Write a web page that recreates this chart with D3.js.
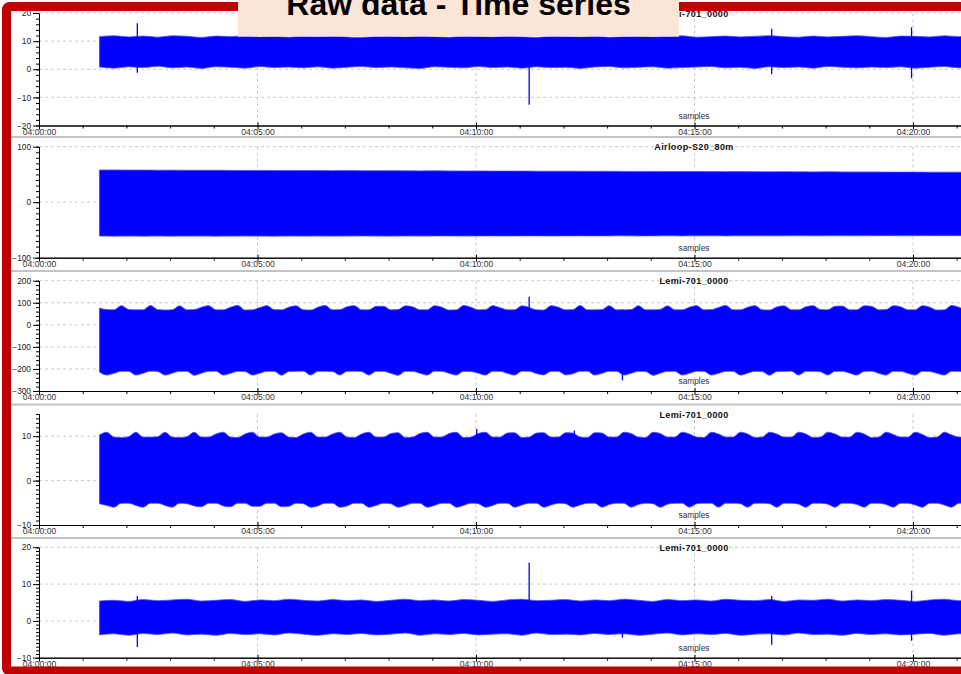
<!DOCTYPE html>
<html><head><meta charset="utf-8">
<script src="https://cdn.jsdelivr.net/npm/d3@7"></script>
<style>html,body{margin:0;padding:0;background:#fff;overflow:hidden}svg{display:block}</style>
</head><body>
<svg id="c" width="961" height="674"></svg>
<script>
// ---------------- DATA ----------------
const chartTitle = "Raw data - Time series";
const panelTitles = ["Lemi-701_0000", "Airloop-S20_80m", "Lemi-701_0000", "Lemi-701_0000", "Lemi-701_0000"];
const xAxisLabel = "samples";
const xTickLabels = ["04:00:00", "04:05:00", "04:10:00", "04:15:00", "04:20:00"];
const xDomain = ["04:00:00", "04:25:00"];
const yDomains = [[-20, 20], [-100, 100], [-300, 200], [-10, 15], [-10, 20]];
const yTickValues = [[-20, -10, 0, 10, 20], [-100, 0, 100], [-300, -200, -100, 0, 100, 200], [-10, 0, 10], [-10, 0, 10, 20]];
const yMinorSteps = [2, 10, 20, 1, 1];
const startTime = "04:01:23";
const stepSec = [20, 20, 10, 10, 20];

// envelope of the dense signal (upper / lower), one value per step
const p1Upper = [11.6,11.9,11.5,11.8,11.4,11.9,11.7,11.3,11.8,11.6,11.9,11.5,11.7,11.4,11.8,11.6,11.9,11.5,11.3,11.7,11.8,11.5,11.9,11.6,11.4,11.8,11.7,11.5,11.9,11.6,11.3,11.8,11.7,11.5,11.9,11.4,11.6,11.8,11.5,11.7,11.9,11.4,11.6,11.8,11.5,11.7,11.9,11.6,11.4,11.8,11.5,11.7,11.9,11.6,11.3,11.8,11.7,11.5,11.9,11.6,11.8,11.5];
const p1Lower = [0.8,0.4,0.9,0.6,1.1,0.5,0.8,0.3,0.9,0.7,0.4,1.0,0.6,0.8,0.5,0.9,0.4,0.7,1.0,0.6,0.8,0.5,0.3,0.9,0.7,0.5,1.0,0.6,0.8,0.4,0.9,0.6,0.7,0.3,0.8,1.0,0.5,0.7,0.9,0.4,0.6,0.8,1.0,0.5,0.7,0.3,0.9,0.6,0.8,0.4,1.0,0.7,0.5,0.8,0.6,0.9,0.4,0.7,1.0,0.5,0.8,0.6];
const p2Upper = [58.0,58.1,57.8,57.8,57.6,57.7,57.5,57.4,57.5,57.3,57.2,57.3,57.1,57.0,57.1,56.9,56.8,56.9,56.7,56.6,56.7,56.5,56.4,56.5,56.3,56.2,56.3,56.1,56.0,56.1,55.9,55.8,55.9,55.7,55.6,55.7,55.5,55.4,55.5,55.3,55.2,55.3,55.1,55.0,55.1,54.9,54.8,54.9,54.7,54.6,54.7,54.5,54.4,54.5,54.3,54.2,54.3,54.1,54.0,54.1,54.0,54.0];
const p2Lower = [-61.0,-61.2,-61.1,-61.3,-61.0,-61.2,-61.1,-61.0,-61.2,-61.1,-61.0,-61.1,-61.2,-61.0,-61.1,-61.0,-61.1,-61.0,-60.9,-61.0,-61.1,-60.9,-61.0,-60.9,-60.8,-61.0,-60.9,-60.8,-60.9,-60.8,-60.7,-60.9,-60.8,-60.7,-60.8,-60.7,-60.6,-60.8,-60.7,-60.6,-60.7,-60.6,-60.5,-60.7,-60.6,-60.5,-60.6,-60.5,-60.4,-60.6,-60.5,-60.4,-60.5,-60.4,-60.3,-60.5,-60.4,-60.3,-60.4,-60.3,-60.3,-60.3];
const p3Upper = [76,69,68,87,70,68,68,88,69,67, 68,86,68,69,80,87,68,68,80,88, 67,68,78,87,69,68,80,86,68,67, 80,88,68,69,82,87,68,68,84,84, 68,69,86,82,68,68,87,80,67,68, 88,80,68,69,87,78,68,68,86,79, 68,67,87,80,68,69,88,68,68,69, 87,68,68,69,87,68,68,70,86,68, 68,80,87,68,69,79,88,68,68,80, 87,68,67,81,86,68,68,82,87,69, 68,84,85,68,68,86,84,68,69,87, 82,68,68,87,80,67,68,88,80,68, 68,87];
const p3Lower = [-214,-228,-220,-211,-211,-228,-220,-210,-212,-228, -219,-211,-211,-229,-219,-211,-210,-228,-220,-211, -212,-228,-220,-211,-211,-229,-212,-211,-210,-228, -211,-211,-212,-228,-211,-210,-212,-228,-211,-211, -220,-229,-211,-211,-220,-228,-210,-211,-220,-228, -211,-212,-219,-228,-211,-211,-220,-228,-210,-211, -221,-227,-211,-211,-227,-222,-211,-210,-228,-220, -211,-211,-228,-220,-211,-212,-229,-219,-211,-211, -228,-220,-210,-211,-228,-220,-211,-211,-228,-219, -211,-212,-229,-212,-211,-210,-228,-211,-211,-213, -228,-211,-211,-219,-228,-211,-210,-220,-228,-211, -211,-220,-228,-211,-212,-220,-228,-211,-211,-220, -228,-211];
const p4Upper = [10.3,10.9,9.8,9.7,9.9,10.9,9.8,9.8,9.9,10.9, 9.8,9.7,9.9,10.9,9.8,9.8,10.5,10.9,9.8,9.7, 10.5,10.9,9.8,9.8,10.5,10.8,9.8,9.7,10.5,10.9, 9.8,9.8,10.5,10.9,9.8,9.7,10.5,10.9,9.8,9.8, 10.6,10.8,9.7,9.8,10.6,10.9,9.8,9.8,10.6,10.9, 9.7,9.8,10.6,10.9,9.8,9.8,10.7,10.8,9.7,9.8, 10.7,10.8,9.8,9.8,10.8,10.7,9.8,9.7,10.8,10.7, 9.8,9.8,10.9,10.6,9.8,9.7,10.9,10.6,9.8,9.8, 10.9,10.5,9.8,9.7,10.9,10.5,9.8,9.8,10.9,10.5, 9.7,9.8,10.9,10.5,9.8,9.8,10.9,10.5,9.7,9.8, 10.9,10.5,9.8,9.8,10.9,10.5,9.7,9.8,10.9,10.4, 9.8,9.8,10.9,10.4,9.7,9.8,10.9,10.3,9.8,9.8, 10.9,9.9];
const p4Lower = [-5.2,-5.6,-6.0,-5.1,-5.1,-5.6,-6.0,-5.1,-5.1,-5.6, -6.0,-5.1,-5.2,-5.7,-5.9,-5.1,-5.1,-5.7,-5.9,-5.1, -5.1,-5.8,-5.8,-5.1,-5.1,-5.9,-5.8,-5.1,-5.2,-6.0, -5.7,-5.1,-5.1,-6.0,-5.7,-5.1,-5.1,-6.0,-5.6,-5.1, -5.2,-6.0,-5.6,-5.1,-5.1,-6.0,-5.6,-5.1,-5.1,-6.0, -5.6,-5.1,-5.2,-6.0,-5.6,-5.1,-5.1,-6.0,-5.5,-5.1, -5.1,-6.0,-5.5,-5.1,-5.2,-6.0,-5.5,-5.1,-5.1,-6.0, -5.4,-5.1,-5.1,-6.0,-5.4,-5.1,-5.2,-6.0,-5.3,-5.1, -5.1,-6.0,-5.2,-5.1,-5.1,-6.0,-5.1,-5.1,-5.2,-6.0, -5.1,-5.1,-5.2,-6.0,-5.1,-5.1,-5.3,-6.0,-5.1,-5.1, -5.3,-6.0,-5.1,-5.1,-5.4,-6.0,-5.1,-5.1,-5.4,-6.0, -5.1,-5.1,-5.5,-6.0,-5.1,-5.1,-5.5,-6.0,-5.1,-5.1, -5.6,-5.9];
const p5Upper = [5.4,5.6,5.3,5.8,5.5,5.7,5.9,5.4,5.6,5.8,5.3,5.7,5.5,5.9,5.6,5.4,5.8,5.5,5.7,5.3,5.6,5.9,5.5,5.7,5.4,5.8,5.6,5.3,5.7,5.9,5.5,5.6,5.8,5.4,5.7,5.5,5.9,5.6,5.3,5.8,5.5,5.7,5.4,5.9,5.6,5.5,5.8,5.3,5.7,5.6,5.9,5.4,5.7,5.5,5.8,5.6,5.3,5.7,5.9,5.5,5.6,5.8];
const p5Lower = [-3.8,-3.5,-3.9,-3.4,-3.7,-3.3,-3.8,-3.6,-3.9,-3.4,-3.7,-3.5,-3.8,-3.3,-3.6,-3.9,-3.5,-3.7,-3.4,-3.8,-3.6,-3.3,-3.9,-3.5,-3.7,-3.4,-3.8,-3.6,-3.5,-3.9,-3.3,-3.7,-3.6,-3.8,-3.4,-3.7,-3.5,-3.9,-3.6,-3.3,-3.8,-3.5,-3.7,-3.4,-3.9,-3.6,-3.5,-3.8,-3.3,-3.7,-3.6,-3.9,-3.4,-3.7,-3.5,-3.8,-3.6,-3.4,-3.9,-3.5,-3.7,-3.6];

// isolated spikes: [time, max, min]
const p1Spikes = [["04:02:15", 16.4, -1.2], ["04:11:13", 11.0, -12.6], ["04:16:46", 14.4, -1.8], ["04:19:58", 14.9, -3.2]];
const p2Spikes = [];
const p3Spikes = [["04:11:13", 127, -200], ["04:13:21", 70, -252]];
const p4Spikes = [["04:10:01", 11.6, -5], ["04:12:15", 11.3, -5]];
const p5Spikes = [["04:02:15", 6.8, -7.1], ["04:11:13", 15.8, -3.4], ["04:13:21", 5.0, -4.6], ["04:16:46", 6.8, -6.5], ["04:19:58", 8.2, -5.4]];

const uppers = [p1Upper, p2Upper, p3Upper, p4Upper, p5Upper];
const lowers = [p1Lower, p2Lower, p3Lower, p4Lower, p5Lower];
const spikes = [p1Spikes, p2Spikes, p3Spikes, p4Spikes, p5Spikes];

// ---------------- LAYOUT ----------------
const W = 961, H = 674;
const plotTop = [13, 146.7, 280.7, 414, 547.3];
const plotBottom = [125.5, 257.7, 391, 525, 657.7];
const separators = [137, 271, 404.5, 538];
const axisX = 39;
const FONT = "'Liberation Sans', Arial, sans-serif";
const BLUE = "#0000ff";

const parse = d3.timeParse("%H:%M:%S");
const fmt = d3.timeFormat("%H:%M:%S");
const svg = d3.select("#c");
svg.append("rect").attr("width", W).attr("height", H).attr("fill", "#fff");

const x = d3.scaleTime().domain(xDomain.map(parse)).range([axisX, axisX + 5 * 218.5]);
const xMajor = xTickLabels.map(parse);
const xMinor = d3.timeMinute.range(parse("04:00:00"), parse("04:25:00")).filter(d => d.getMinutes() % 5 !== 0);
const t0 = parse(startTime);

// separators
separators.forEach(yy => {
  svg.append("line").attr("x1", 11).attr("x2", W).attr("y1", yy).attr("y2", yy)
    .attr("stroke", "#c3c3c3").attr("stroke-width", 2);
});

for (let p = 0; p < 5; p++) {
  const g = svg.append("g");
  const y = d3.scaleLinear().domain(yDomains[p]).range([plotBottom[p], plotTop[p]]);

  // grid
  yTickValues[p].filter(v => v !== yDomains[p][0]).forEach(v => {
    g.append("line").attr("x1", axisX).attr("x2", W).attr("y1", y(v)).attr("y2", y(v))
      .attr("stroke", "#c8c8c8").attr("stroke-dasharray", "3,3").attr("stroke-width", 1);
  });
  xMajor.slice(1).forEach(d => {
    g.append("line").attr("x1", x(d)).attr("x2", x(d)).attr("y1", plotTop[p]).attr("y2", plotBottom[p])
      .attr("stroke", "#c8c8c8").attr("stroke-dasharray", "3,3").attr("stroke-width", 1);
  });

  // panel title
  g.append("text").attr("x", 694).attr("y", plotTop[p] + 3.5).attr("text-anchor", "middle")
    .attr("font-family", FONT).attr("font-size", 9).attr("font-weight", "bold")
    .attr("letter-spacing", 0.4).attr("fill", "#111").text(panelTitles[p]);

  // data band
  const rows = uppers[p].map((u, i) => ({ t: d3.timeSecond.offset(t0, i * stepSec[p]), hi: u, lo: lowers[p][i] }));
  const area = d3.area().curve(d3.curveMonotoneX).x(d => x(d.t)).y0(d => y(d.lo)).y1(d => y(d.hi));
  g.append("path").datum(rows).attr("d", area).attr("fill", BLUE)
    .attr("stroke", "#4d4dff").attr("stroke-width", 0.8);

  spikes[p].forEach(s => {
    const xs = x(parse(s[0]));
    g.append("line").attr("x1", xs).attr("x2", xs).attr("y1", y(s[1])).attr("y2", y(s[2]))
      .attr("stroke", BLUE).attr("stroke-width", 1.3);
  });

  // "samples" label
  g.append("text").attr("x", 694).attr("y", plotBottom[p] - 7).attr("text-anchor", "middle")
    .attr("font-family", FONT).attr("font-size", 8.3).attr("fill", "#333").text(xAxisLabel);

  // y axis minor ticks
  const minor = d3.range(yDomains[p][0], yDomains[p][1] + 1e-9, yMinorSteps[p]);
  g.append("g").attr("transform", `translate(${axisX},0)`)
    .call(d3.axisLeft(y).tickValues(minor).tickSize(3).tickSizeOuter(0).tickFormat(""))
    .call(a => a.select(".domain").attr("stroke", "#000"));
  // y axis major
  const ya = g.append("g").attr("transform", `translate(${axisX},0)`)
    .call(d3.axisLeft(y).tickValues(yTickValues[p]).tickSize(6).tickSizeOuter(0).tickPadding(2).tickFormat(d3.format("d")));
  ya.selectAll("text").attr("font-family", FONT).attr("font-size", 8.3).attr("fill", "#222");

  // x axis
  g.append("g").attr("transform", `translate(0,${plotBottom[p]})`)
    .call(d3.axisBottom(x).tickValues(xMinor).tickSize(3).tickSizeOuter(0).tickFormat(""));
  const xb = g.append("g").attr("transform", `translate(0,${plotBottom[p]})`)
    .call(d3.axisBottom(x).tickValues(xMajor).tickSize(4).tickSizeOuter(0).tickPadding(-1).tickFormat(fmt));
  xb.selectAll(".tick line").attr("y1", -3);
  xb.selectAll("text").attr("font-family", FONT).attr("font-size", 8.6).attr("fill", "#333");
}

// red frame
svg.append("rect").attr("x", 6.5).attr("y", 6.5).attr("width", 1100).attr("height", 664.5)
  .attr("rx", 3).attr("fill", "none").attr("stroke", "#c00000").attr("stroke-width", 9);

// title box
svg.append("rect").attr("x", 238).attr("y", -10).attr("width", 441).attr("height", 46.7)
  .attr("fill", "#fbe5d6");
svg.append("text").attr("x", 458.5).attr("y", 15).attr("text-anchor", "middle")
  .attr("font-family", FONT).attr("font-size", 32).attr("font-weight", "bold").attr("fill", "#000")
  .text(chartTitle);
</script>
</body></html>
